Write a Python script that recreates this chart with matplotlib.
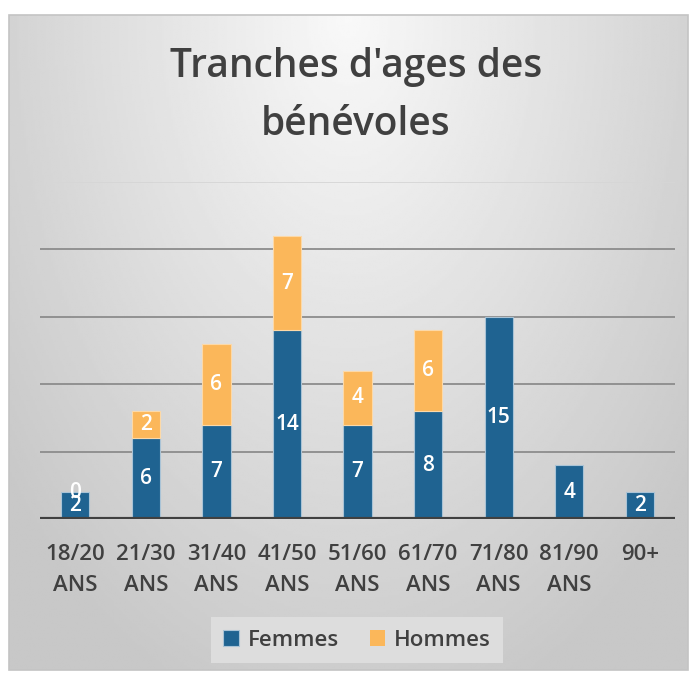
import numpy as np
import matplotlib
matplotlib.use('Agg')
import matplotlib.pyplot as plt
from matplotlib.patches import Rectangle

categories = ['18/20\nANS', '21/30\nANS', '31/40\nANS', '41/50\nANS', '51/60\nANS',
              '61/70\nANS', '71/80\nANS', '81/90\nANS', '90+']
femmes = [2, 6, 7, 14, 7, 8, 15, 4, 2]
hommes = [0, 2, 6, 7, 4, 6, 0, 0, 0]
# which "Hommes" labels are shown in the original (only the 18/20 zero shows)
hommes_lbl = ['0', '2', '6', '7', '4', '6', '', '', '']

blue = '#1f6391'
orange = '#fbb75a'
txt = '#404040'

plt.rcParams['font.family'] = ['Open Sans', 'DejaVu Sans']

W, H = 691, 673
fig = plt.figure(figsize=(W / 100, H / 100), dpi=100)
fig.patch.set_facecolor('white')

# background gradient inside the frame
x0, y0, x1, y1 = 9, 15, 688, 670
bg = fig.add_axes([x0 / W, 1 - y1 / H, (x1 - x0) / W, (y1 - y0) / H])
gx, gy = np.meshgrid(np.linspace(-1, 1, 300), np.linspace(0, 1, 300))
r = np.sqrt((gx / 1.3) ** 2 + (gy / 1.1) ** 2)
shade = 0.975 - 0.19 * np.clip(r, 0, 1)
bg.imshow(shade, cmap='gray', vmin=0, vmax=1, aspect='auto', extent=[0, 1, 1, 0])
bg.set_xlim(0, 1)
bg.set_ylim(1, 0)
bg.axis('off')
fig.patches.append(Rectangle((x0 / W, 1 - y1 / H), (x1 - x0) / W, (y1 - y0) / H,
                             transform=fig.transFigure, fill=False,
                             edgecolor='#c4c4c4', lw=1.2, zorder=5))

ax = fig.add_axes([40 / W, 1 - 519 / H, 635 / W, (519 - 182) / H])
ax.set_facecolor('none')
x = np.arange(len(categories))
wbar = 0.4
b1 = ax.bar(x, femmes, wbar, color=blue, edgecolor='#a9c3d6', lw=0.8, zorder=3, label='Femmes')
h_edges = ['#fcd9a8' if v > 0 else 'none' for v in hommes]
b2 = ax.bar(x, hommes, wbar, bottom=femmes, color=orange, edgecolor=h_edges, lw=0.8,
            zorder=3, label='Hommes')

for i in range(len(x)):
    ax.text(x[i], femmes[i] / 2, str(femmes[i]), ha='center', va='center',
            color='white', fontsize=15, fontweight='semibold', zorder=4)
    if hommes_lbl[i]:
        ax.text(x[i], femmes[i] + hommes[i] / 2, hommes_lbl[i], ha='center', va='center',
                color='white', fontsize=15, fontweight='semibold', zorder=4)

ax.set_xlim(-0.5, len(x) - 0.5)
ax.set_ylim(0, 25)
for yv in [5, 10, 15, 20]:
    ax.axhline(yv, color='#8c8c8c', lw=1.3, zorder=1)
ax.axhline(25, color='#d6d6d6', lw=1.3, zorder=1)
for s in ax.spines.values():
    s.set_visible(False)
ax.axhline(0, color='#404040', lw=3, zorder=5)
ax.set_yticks([])
ax.set_xticks(x)
ax.set_xticklabels(categories, fontsize=16, color=txt, fontweight='semibold', linespacing=1.65)
ax.tick_params(axis='x', length=0, pad=18)

fig.text(356 / W, 1 - 96 / H, "Tranches d'ages des\nbénévoles", ha='center', va='center',
         fontsize=28, color=txt, fontweight='semibold', linespacing=1.6)

leg = fig.legend(loc='center', bbox_to_anchor=(357 / W, 1 - 640 / H), ncol=2,
                 frameon=True, prop={'size': 16, 'weight': 'semibold'},
                 handlelength=0.7, handleheight=0.7,
                 handletextpad=0.4, columnspacing=1.4, borderpad=0.55, fancybox=False)
leg.get_frame().set_facecolor('#dddddd')
leg.get_frame().set_edgecolor('none')
leg.get_frame().set_alpha(1)
for t in leg.get_texts():
    t.set_color(txt)

fig.savefig('out.png', dpi=100)
